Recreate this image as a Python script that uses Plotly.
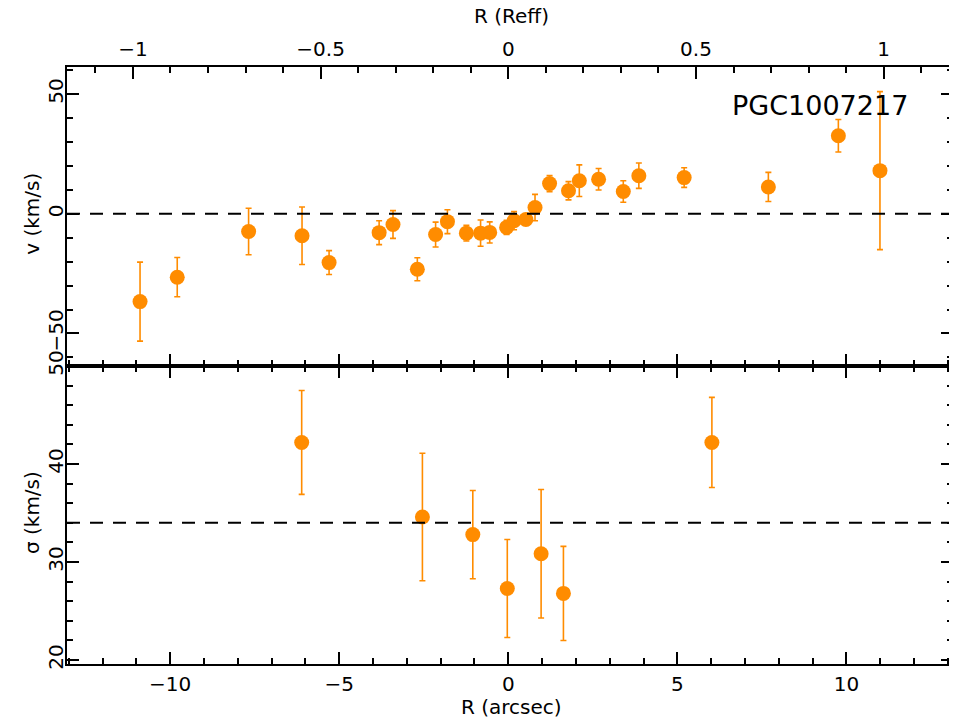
import plotly.graph_objects as go

# velocity profile (top panel)
v_r = [-10.89, -9.79, -7.68, -6.10, -5.30, -3.82, -3.41, -2.69, -2.15, -1.80,
       -1.24, -0.82, -0.55, -0.05, 0.17, 0.52, 0.79, 1.22, 1.78, 2.10,
       2.67, 3.40, 3.86, 5.20, 7.69, 9.76, 10.99]
v = [-36.7, -26.5, -7.4, -9.2, -20.4, -7.9, -4.5, -23.2, -8.7, -3.3,
     -8.1, -8.1, -7.8, -5.7, -2.9, -2.4, 2.6, 12.6, 9.6, 13.8,
     14.4, 9.3, 15.9, 15.1, 11.2, 32.6, 18.0]
v_err = [16.5, 8.2, 9.7, 12.0, 5.0, 5.0, 5.8, 4.8, 5.2, 5.0,
         3.3, 5.5, 4.4, 3.0, 3.8, 2.0, 5.5, 3.4, 3.8, 6.6,
         4.5, 4.5, 5.3, 4.1, 6.1, 6.8, 33.0]

# dispersion profile (bottom panel)
s_r = [-6.11, -2.54, -1.05, -0.03, 0.97, 1.63, 6.02]
s = [42.2, 34.6, 32.8, 27.3, 30.85, 26.8, 42.2]
s_err = [5.3, 6.5, 4.5, 5.0, 6.55, 4.8, 4.6]

v_ref = 0
s_ref = 34
reff = 11.1  # arcsec per Reff
galaxy = "PGC1007217"

orange = "#ff8c00"
font = dict(family="DejaVu Sans", size=20, color="black")
x_range = [-13.05, 13.15]
r_range = [x_range[0] / reff, x_range[1] / reff]
v_range = [-63.6, 61.3]
s_range = [19.6, 50]

err_style = dict(type="data", thickness=1.6, width=3, color=orange)

fig = go.Figure()
fig.add_trace(go.Scatter(
    x=v_r, y=v, mode="markers", xaxis="x2", yaxis="y2",
    marker=dict(size=15, color=orange),
    error_y=dict(array=v_err, **err_style), showlegend=False))
fig.add_trace(go.Scatter(
    x=s_r, y=s, mode="markers", xaxis="x", yaxis="y",
    marker=dict(size=15, color=orange),
    error_y=dict(array=s_err, **err_style), showlegend=False))

# invisible traces so the extra tick axes get drawn
for xa, ya in [("x3", "y2"), ("x4", "y"), ("x", "y3"), ("x5", "y2"), ("x2", "y4"), ("x6", "y2")]:
    yy = 30 if ya in ("y", "y3") else 0
    fig.add_trace(go.Scatter(x=[0], y=[yy], xaxis=xa, yaxis=ya, mode="markers",
                             marker=dict(opacity=0), showlegend=False, hoverinfo="skip"))

base = dict(showline=True, linecolor="black", linewidth=1.5,
            ticks="inside", tickwidth=1.5, tickcolor="black",
            showgrid=False, zeroline=False, tickfont=font, automargin=False)
major = dict(ticklen=12, **base)
minor = dict(ticklen=6, showticklabels=False, **base)

split = 298 / 597
fig.update_layout(
    # page body has an 8px margin, so the figure is shrunk to fit the window
    width=949, height=712,
    margin=dict(l=59, r=4, t=59, b=56),
    paper_bgcolor="white", plot_bgcolor="white",
    font=font,
    # bottom panel
    xaxis=dict(domain=[0, 1], anchor="y", range=x_range, dtick=5, mirror="ticks",
               ticklabelstandoff=1, **major),
    yaxis=dict(domain=[0, split], anchor="x", range=s_range, dtick=10, mirror="ticks",
               tickangle=-90, ticklabelstandoff=-6, **major),
    xaxis4=dict(overlaying="x", anchor="y", range=x_range, dtick=1, mirror="ticks", **minor),
    yaxis3=dict(overlaying="y", anchor="x", range=s_range, dtick=2, mirror="ticks", **minor),
    # top panel
    xaxis2=dict(domain=[0, 1], anchor="y2", range=x_range, dtick=5, mirror=True,
                showticklabels=False, **major),
    xaxis5=dict(overlaying="x2", anchor="y2", range=x_range, dtick=1, **minor),
    yaxis2=dict(domain=[split, 1], anchor="x2", range=v_range, dtick=50, mirror="ticks",
                tickangle=-90, ticklabelstandoff=-6, **major),
    yaxis4=dict(overlaying="y2", anchor="x2", range=v_range, dtick=10, mirror="ticks", **minor),
    xaxis3=dict(overlaying="x2", anchor="y2", side="top", range=r_range, dtick=0.5,
                ticklabelstandoff=1, **major),
    xaxis6=dict(overlaying="x2", anchor="y2", side="top", range=r_range, dtick=0.1, **minor),
)

dash = dict(color="black", width=2, dash="13px,10px")
fig.add_shape(type="line", xref="x2 domain", yref="y2", x0=0, x1=1, y0=v_ref, y1=v_ref, line=dash)
fig.add_shape(type="line", xref="x domain", yref="y", x0=0, x1=1, y0=s_ref, y1=s_ref, line=dash)

fig.add_annotation(text=galaxy, xref="x2 domain", yref="y2 domain", x=0.951, y=0.87,
                   xanchor="right", yanchor="middle", showarrow=False,
                   font=dict(family="DejaVu Sans", size=27, color="black"))
fig.add_annotation(text="v (km/s)", xref="paper", yref="y2", x=0, y=v_ref, xshift=-49,
                   textangle=-90, showarrow=False, font=font)
fig.add_annotation(text="σ (km/s)", xref="paper", yref="y", x=0, y=35, xshift=-49,
                   textangle=-90, showarrow=False, font=font)
fig.add_annotation(text="R (arcsec)", xref="x domain", yref="paper", x=0.5, y=0,
                   yanchor="middle", yshift=-43, xshift=1, showarrow=False, font=font)
fig.add_annotation(text="R (Reff)", xref="x domain", yref="paper", x=0.5, y=1,
                   yanchor="middle", yshift=51, xshift=1, showarrow=False, font=font)

fig.write_html("out.html")
